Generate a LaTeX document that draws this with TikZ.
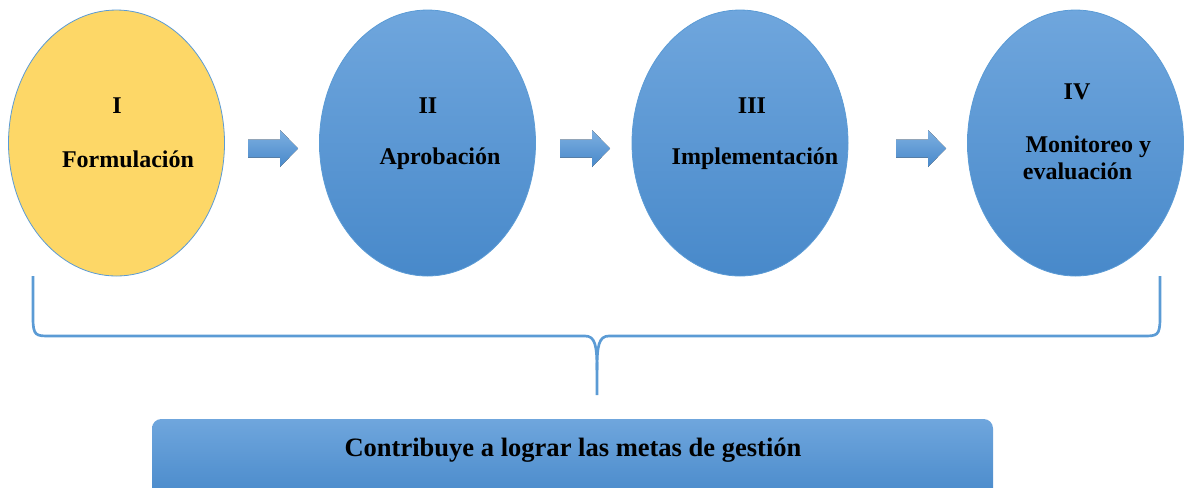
\documentclass[tikz,border=0pt]{standalone}
\usepackage{fontspec}
\setmainfont{Liberation Serif}
\usetikzlibrary{shapes.geometric}
\definecolor{yel}{RGB}{253,215,103}
\definecolor{bluetop}{RGB}{111,166,221}
\definecolor{bluebot}{RGB}{72,137,202}
\definecolor{blueline}{RGB}{91,155,213}
\tikzset{
  stage/.style={ellipse, draw=blueline, line width=0.6pt, minimum width=162pt, minimum height=199.5pt, inner sep=0pt},
  bluefill/.style={top color=bluetop, bottom color=bluebot},
  lbl/.style={font=\fontsize{18}{21.5}\selectfont\bfseries, inner sep=0pt, text=black},
  biglbl/.style={font=\fontsize{19.9}{24}\selectfont\bfseries, inner sep=0pt, text=black},
  blockarrow/.style={top color=bluetop!90!white, bottom color=bluebot, draw=none},
  bracket/.style={draw=blueline, line width=2pt}
}
\begin{document}
\begin{tikzpicture}[x=0.75pt,y=-0.75pt]
\useasboundingbox (0,0) rectangle (1186,487);
% stages
\node[stage, fill=yel] (s1) at (116.5,143) {};
\node[stage, bluefill] (s2) at (427.5,143) {};
\node[stage, bluefill] (s3) at (740,143) {};
\node[stage, bluefill] (s4) at (1075.5,143) {};
% labels
\node[lbl] (t1a) at (117,106) {I};
\node[lbl] (t1b) at (128,159) {Formulación};
\node[lbl] (t2a) at (428,106) {II};
\node[lbl] (t2b) at (440,159) {Aprobación};
\node[lbl] (t3a) at (752,106) {III};
\node[lbl] (t3b) at (755,159) {Implementación};
\node[lbl] (t4a) at (1077,92) {IV};
\node[lbl, align=left] (t4b) at (1087,158) {\hspace*{2pt}Monitoreo y\\[-1pt]evaluación};
% block arrows
\foreach \x in {248,560,896}{
  \fill[blockarrow] (\x,139.5) -- (\x+32,139.5) -- (\x+32,130) -- (\x+50,148.5) -- (\x+32,167) -- (\x+32,157.5) -- (\x,157.5) -- cycle;
}
% bracket
\coordinate (bl) at (33,276);
\coordinate (br) at (1160,276);
\coordinate (bm) at (597,395);
\draw[bracket] (bl) -- (33,318) .. controls (33,336) and (36,336) .. (50,336) -- (585,336) .. controls (595,336) and (597,345) .. (597,370) -- (bm);
\draw[bracket] (br) -- (1160,318) .. controls (1160,336) and (1157,336) .. (1143,336) -- (609,336) .. controls (599,336) and (597,345) .. (597,370);
% bottom box
\shade[top color=bluetop, bottom color=bluebot, rounded corners=7pt] (152,419) rectangle (993,500);
\node[biglbl] (res) at (573,450) {Contribuye a lograr las metas de gestión};
\end{tikzpicture}
\end{document}
